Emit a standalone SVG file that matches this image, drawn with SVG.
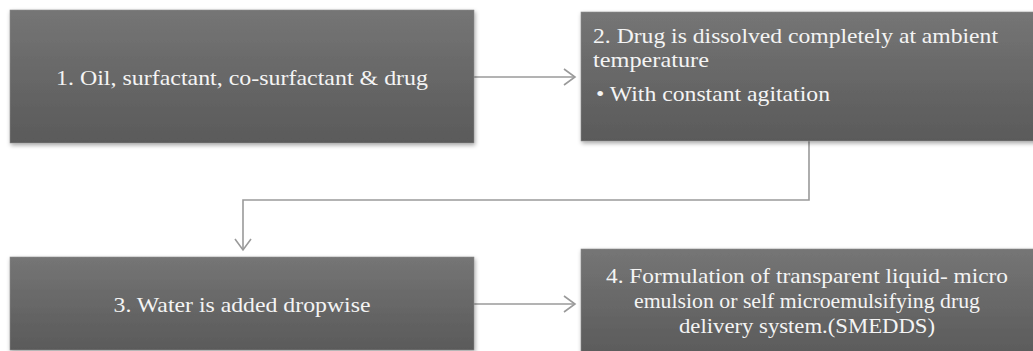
<svg xmlns="http://www.w3.org/2000/svg" width="1033" height="351" viewBox="0 0 1033 351">
<style>
.box{fill:url(#g);filter:url(#sh);stroke:#8a8a8a;stroke-width:0.6}
.t{font-family:"Liberation Serif","Times New Roman",serif;font-size:21px;fill:#f4f4f4}
.c{fill:none;stroke:#9a9a9a;stroke-width:1.6}
</style>
<defs>
<linearGradient id="g" x1="0" y1="0" x2="0" y2="1">
<stop offset="0" stop-color="#757575"/>
<stop offset="1" stop-color="#5a5a5a"/>
</linearGradient>
<filter id="sh" x="-5%" y="-10%" width="110%" height="125%">
<feDropShadow dx="1" dy="2" stdDeviation="2" flood-color="#000" flood-opacity="0.35"/>
</filter>
<marker id="a" markerWidth="14" markerHeight="20" refX="12" refY="10" orient="auto" markerUnits="userSpaceOnUse">
<path d="M1,2 L12,10 L1,18" fill="none" stroke="#9a9a9a" stroke-width="1.6"/>
</marker>
</defs>
<rect width="1033" height="351" fill="#fff"/>
<g id="connectors">
<path class="c" d="M474,77 H575" marker-end="url(#a)"/>
<path class="c" d="M809,141 V200 H243 V250" marker-end="url(#a)"/>
<path class="c" d="M474,304 H575" marker-end="url(#a)"/>
</g>
<g id="node1">
<rect class="box" x="10" y="10" width="464" height="133"/>
<text class="t" x="242" y="85" text-anchor="middle" textLength="372" lengthAdjust="spacingAndGlyphs">1. Oil,  surfactant, co-surfactant &amp; drug</text>
</g>
<g id="node2">
<rect class="box" x="581" y="12" width="460" height="129"/>
<text class="t" x="593" y="43" textLength="405" lengthAdjust="spacingAndGlyphs">2. Drug is dissolved completely at ambient</text>
<text class="t" x="593" y="67" textLength="116" lengthAdjust="spacingAndGlyphs">temperature</text>
<text class="t" x="596" y="101" textLength="234" lengthAdjust="spacingAndGlyphs">• With constant agitation</text>
</g>
<g id="node3">
<rect class="box" x="10" y="257" width="464" height="93"/>
<text class="t" x="242" y="312" text-anchor="middle" textLength="257" lengthAdjust="spacingAndGlyphs">3. Water is added dropwise</text>
</g>
<g id="node4">
<rect class="box" x="581" y="249" width="460" height="110"/>
<text class="t" x="807" y="283" text-anchor="middle" textLength="402" lengthAdjust="spacingAndGlyphs">4. Formulation of transparent liquid- micro</text>
<text class="t" x="807" y="308" text-anchor="middle" textLength="346" lengthAdjust="spacingAndGlyphs">emulsion or self microemulsifying drug</text>
<text class="t" x="807" y="333" text-anchor="middle" textLength="256" lengthAdjust="spacingAndGlyphs">delivery system.(SMEDDS)</text>
</g>
</svg>
